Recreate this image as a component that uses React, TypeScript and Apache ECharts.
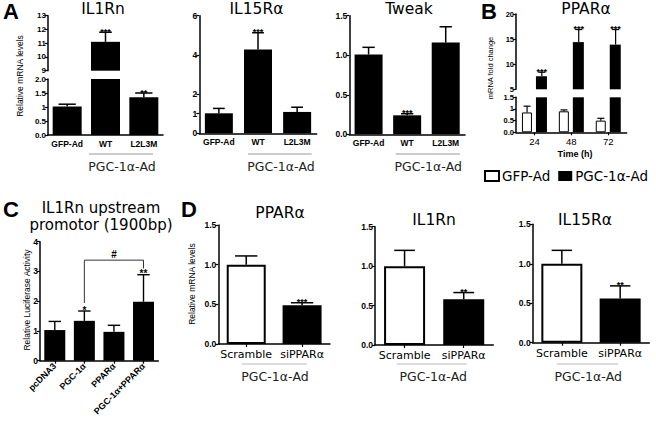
import React, { useEffect, useRef } from 'react';
import * as echarts from 'echarts';

// ---------- DATA ----------
const catsA = ['GFP-Ad', 'WT', 'L2L3M'];
const il1rnA = [1.02, 11.1, 1.35];
const il1rnAErr = [1.1, 11.8, 1.5];
const il1rnAStars = ['', '***', '**'];
const il15raA = [1.02, 4.27, 1.09];
const il15raAErr = [1.27, 5.13, 1.33];
const il15raAStars = ['', '***', ''];
const tweakA = [1.01, 0.24, 1.16];
const tweakAErr = [1.1, 0.26, 1.36];
const tweakAStars = ['', '***', ''];

const timesB = ['24', '48', '72'];
const gfpB = [0.85, 0.9, 0.5];
const gfpBErr = [1.12, 0.96, 0.6];
const pgcB = [7.6, 14.4, 13.9];
const pgcBErr = [8.4, 16.9, 16.9];
const pgcBStars = ['***', '***', '***'];

const catsC = ['pcDNA3', 'PGC-1α', 'PPARα', 'PGC-1α+PPARα'];
const lucC = [1.03, 1.34, 0.97, 1.98];
const lucCErr = [1.32, 1.67, 1.19, 2.89];
const lucCStars = ['', '*', '', '**'];
const bracketC = [[1, 3.38, 3, 1.94, 3.1]]; // [fromCat, top, toCat, leftEnd, rightEnd]
const bracketCLabel = '#';

const catsD = ['Scramble', 'siPPARα'];
const pparD = [1.0, 0.49];
const pparDErr = [1.11, 0.52];
const pparDStars = ['', '***'];
const il1rnD = [1.0, 0.58];
const il1rnDErr = [1.2, 0.665];
const il1rnDStars = ['', '**'];
const il15raD = [1.0, 0.56];
const il15raDErr = [1.17, 0.72];
const il15raDStars = ['', '**'];

// ---------- STYLE HELPERS ----------
const TICK_FONT = '"Liberation Sans", Arial, sans-serif';
const TEXT_FONT = '"DejaVu Sans", sans-serif';

const g = (left: number, top: number, width: number, height: number) => ({ left, top, width, height });

function catAxis(gridIndex: number, data: string[], o: any = {}) {
  const show = o.show !== false;
  return {
    type: 'category', gridIndex, data, show,
    axisLine: { show, onZero: false, lineStyle: { color: '#000', width: 1.5 } },
    axisTick: { show: !!o.tick, alignWithLabel: true, length: 3, lineStyle: { color: '#000', width: 1.2 } },
    axisLabel: {
      show, interval: 0, color: '#000', margin: o.margin ?? 4, rotate: o.rotate ?? 0,
      fontFamily: o.font ?? TICK_FONT, fontSize: o.fontSize ?? 8.5, fontWeight: o.weight ?? 'bold',
    },
  };
}

function valAxis(gridIndex: number, min: number, max: number, interval: number, fmt: (v: number) => string, custom?: number[], size = 8.5) {
  return {
    type: 'value', gridIndex, min, max, interval,
    splitLine: { show: false },
    axisLine: { show: true, lineStyle: { color: '#000', width: 1.5 } },
    axisTick: { show: true, length: 3, lineStyle: { color: '#000', width: 1.2 }, ...(custom ? { customValues: custom } : {}) },
    axisLabel: {
      color: '#000', margin: 2, fontFamily: TICK_FONT, fontSize: size, fontWeight: 'bold',
      formatter: (v: number) => fmt(v), showMinLabel: true, showMaxLabel: true,
      ...(custom ? { customValues: custom } : {}),
    },
  };
}

function bar(name: string, idx: number, data: any[], width: number, color: any, border = 0, extra: any = {}) {
  return {
    type: 'bar', name, xAxisIndex: idx, yAxisIndex: idx, data, barWidth: width, clip: true,
    itemStyle: { color, borderColor: '#000', borderWidth: border },
    silent: true, ...extra,
  };
}

function errSeries(idx: number, vals: number[], errs: number[], stars: string[], keep: (v: number) => boolean,
  o: { cap: number; offset?: number; lw?: number; starSize?: number }) {
  const data = vals.map((v, i) => [i, v, errs[i]]).filter((d) => keep(d[1]));
  return {
    type: 'custom', xAxisIndex: idx, yAxisIndex: idx, data, silent: true, z: 5,
    renderItem: (_p: any, api: any) => {
      const i = api.value(0);
      const p0 = api.coord([i, api.value(1)]);
      const p1 = api.coord([i, api.value(2)]);
      const bw = api.size([1, 0])[0];
      const cx = p0[0] + (o.offset ?? 0) * bw;
      const half = (o.cap * bw) / 2;
      const lw = o.lw ?? 1.5;
      const children: any[] = [
        { type: 'line', shape: { x1: cx, y1: p0[1], x2: cx, y2: p1[1] }, style: { stroke: '#000', lineWidth: lw } },
        { type: 'line', shape: { x1: cx - half, y1: p1[1], x2: cx + half, y2: p1[1] }, style: { stroke: '#000', lineWidth: lw } },
      ];
      const s = stars[i];
      if (s) {
        children.push({
          type: 'text',
          style: {
            text: s, x: cx, y: p1[1] + 4, align: 'center', textAlign: 'center', verticalAlign: 'bottom', textVerticalAlign: 'bottom',
            fontSize: o.starSize ?? 9, fontWeight: 'bold', fontFamily: TICK_FONT, fill: '#000',
          },
        });
      }
      return { type: 'group', children };
    },
  };
}

function txt(x: number, y: number, text: string, size: number, o: any = {}) {
  return {
    type: 'text', x, y, rotation: o.rotation ?? 0, silent: true,
    style: {
      text, x: 0, y: 0, align: o.align ?? 'center', textAlign: o.align ?? 'center',
      verticalAlign: 'middle', textVerticalAlign: 'middle',
      fontSize: size, fontFamily: o.font ?? TEXT_FONT, fontWeight: o.weight ?? 'normal', fill: o.color ?? '#000',
    },
  };
}

function hline(x1: number, x2: number, y: number, color = '#bbb', w = 1.5) {
  return { type: 'line', silent: true, shape: { x1, y1: y, x2, y2: y }, style: { stroke: color, lineWidth: w } };
}

const f1 = (v: number) => v.toFixed(1);
const fInt = (v: number) => String(v);
const fA1l = (v: number) => (v === 0 ? '0.0' : v === 2 ? '2.0' : String(v));
const fBl = (v: number) => (v === 0 ? '0.0' : String(v));

export default function App() {
  const ref = useRef<HTMLDivElement>(null);
  useEffect(() => {
    if (!ref.current) return;
    const chart = echarts.init(ref.current, undefined, { renderer: 'svg' });
    const black = '#000';
    const whiteBlack = (p: any) => (p.dataIndex === 0 ? '#fff' : '#000');

    const option: any = {
      animation: false,
      backgroundColor: '#fff',
      grid: [
        g(48, 15.7, 115, 55), // 0 A1 upper
        g(48, 79, 115, 56), // 1 A1 lower
        g(199.3, 15.7, 117.4, 117.6), // 2 A2
        g(349.3, 15.7, 115.7, 118.6), // 3 A3
        g(516, 14, 110.7, 75.3), // 4 B upper
        g(516, 97.3, 110.7, 35), // 5 B lower
        g(40, 241.7, 118.3, 119), // 6 C
        g(218.3, 225, 111.7, 119), // 7 D1
        g(375, 226.7, 118.3, 118.3), // 8 D2
        g(532.7, 224.3, 116.6, 118.4), // 9 D3
      ],
      xAxis: [
        catAxis(0, catsA, { show: false }),
        catAxis(1, catsA),
        catAxis(2, catsA),
        catAxis(3, catsA),
        catAxis(4, timesB, { show: false }),
        catAxis(5, timesB, { tick: true, weight: 'normal', fontSize: 9.5, margin: 4 }),
        catAxis(6, catsC, { tick: true, rotate: 45, fontSize: 9, margin: 4 }),
        catAxis(7, catsD, { tick: true, weight: 'normal', font: TEXT_FONT, fontSize: 11, margin: 5 }),
        catAxis(8, catsD, { tick: true, weight: 'normal', font: TEXT_FONT, fontSize: 11, margin: 5 }),
        catAxis(9, catsD, { tick: true, weight: 'normal', font: TEXT_FONT, fontSize: 11, margin: 5 }),
      ],
      yAxis: [
        valAxis(0, 9, 13, 1, fInt, undefined, 8),
        valAxis(1, 0, 2, 0.5, fA1l, undefined, 8),
        valAxis(2, 0, 6, 1, fInt, [0, 1, 2, 4, 6]),
        valAxis(3, 0, 1.5, 0.5, f1),
        valAxis(4, 5, 20, 5, fInt, undefined, 7.5),
        valAxis(5, 0, 1.5, 0.5, fBl, undefined, 7.5),
        valAxis(6, 0, 4, 1, fInt),
        valAxis(7, 0, 1.5, 0.5, f1),
        valAxis(8, 0, 1.5, 0.5, f1),
        valAxis(9, 0, 1.5, 0.5, f1),
      ],
      legend: {
        data: ['GFP-Ad', 'PGC-1α-Ad'], left: 484, top: 169, itemWidth: 14, itemHeight: 10, itemGap: 8,
        icon: 'rect', padding: 0, selectedMode: false,
        textStyle: { fontFamily: TEXT_FONT, fontSize: 13.5, color: '#000', padding: [0, 0, 0, -2] },
      },
      series: [
        // A1 broken axis
        bar('a1u', 0, il1rnA.map((v) => (v >= 9 ? v : '-')), 29, black),
        errSeries(0, il1rnA, il1rnAErr, il1rnAStars, (v) => v >= 9, { cap: 0.33 }),
        bar('a1l', 1, il1rnA, 29, black),
        errSeries(1, il1rnA, il1rnAErr, il1rnAStars, (v) => v <= 2, { cap: 0.45 }),
        // A2
        bar('a2', 2, il15raA, 28, black),
        errSeries(2, il15raA, il15raAErr, il15raAStars, () => true, { cap: 0.3 }),
        // A3
        bar('a3', 3, tweakA, 28, black),
        errSeries(3, tweakA, tweakAErr, tweakAStars, () => true, { cap: 0.32 }),
        // B broken axis grouped bars
        bar('GFP-Ad', 4, gfpB.map((v) => (v >= 5 ? v : '-')), 10, '#fff', 1, { barGap: '40%' }),
        bar('PGC-1α-Ad', 4, pgcB, 11, black, 0, { barGap: '40%' }),
        bar('GFP-Ad', 5, gfpB, 10, '#fff', 1, { barGap: '40%' }),
        bar('PGC-1α-Ad', 5, pgcB, 11, black, 0, { barGap: '40%' }),
        errSeries(4, pgcB, pgcBErr, pgcBStars, (v) => v >= 5, { cap: 0.19, offset: 0.2, lw: 1.2, starSize: 9 }),
        errSeries(5, gfpB, gfpBErr, ['', '', ''], (v) => v <= 1.5, { cap: 0.19, offset: -0.2, lw: 1.2 }),
        // C
        bar('c', 6, lucC, 21, black),
        errSeries(6, lucC, lucCErr, lucCStars, () => true, { cap: 0.42, lw: 1.4, starSize: 10 }),
        {
          type: 'custom', xAxisIndex: 6, yAxisIndex: 6, data: bracketC, silent: true,
          renderItem: (_p: any, api: any) => {
            const pL = api.coord([api.value(0), api.value(1)]);
            const pR = api.coord([api.value(2), api.value(1)]);
            const pLe = api.coord([api.value(0), api.value(3)]);
            const pRe = api.coord([api.value(2), api.value(4)]);
            return {
              type: 'group',
              children: [
                {
                  type: 'polyline',
                  shape: { points: [[pL[0], pLe[1]], [pL[0], pL[1]], [pR[0], pR[1]], [pR[0], pRe[1]]] },
                  style: { stroke: '#333', lineWidth: 1, fill: 'none' },
                },
                {
                  type: 'text',
                  style: {
                    text: bracketCLabel, x: (pL[0] + pR[0]) / 2, y: pL[1] - 1, align: 'center', textAlign: 'center',
                    verticalAlign: 'bottom', textVerticalAlign: 'bottom', fontSize: 10, fontWeight: 'bold', fontFamily: TICK_FONT, fill: '#000',
                  },
                },
              ],
            };
          },
        },
        // D
        bar('d1', 7, pparD, 39, whiteBlack, 2),
        errSeries(7, pparD, pparDErr, pparDStars, () => true, { cap: 0.4, starSize: 9 }),
        bar('d2', 8, il1rnD, 41, whiteBlack, 2),
        errSeries(8, il1rnD, il1rnDErr, il1rnDStars, () => true, { cap: 0.35, starSize: 9 }),
        bar('d3', 9, il15raD, 41, whiteBlack, 2),
        errSeries(9, il15raD, il15raDErr, il15raDStars, () => true, { cap: 0.35, starSize: 9 }),
      ],
      graphic: [
        // panel letters
        txt(11, 11.5, 'A', 22, { font: TICK_FONT, weight: 'bold' }),
        txt(489, 11.5, 'B', 22, { font: TICK_FONT, weight: 'bold' }),
        txt(11, 209, 'C', 22, { font: TICK_FONT, weight: 'bold' }),
        txt(189, 209, 'D', 22, { font: TICK_FONT, weight: 'bold' }),
        // titles
        txt(103, 8.5, 'IL1Rn', 15.5),
        txt(256.5, 8.5, 'IL15Rα', 15.5),
        txt(409, 8.5, 'Tweak', 15.5),
        txt(586, 9, 'PPARα', 15.5),
        txt(101, 208, 'IL1Rn upstream', 15),
        txt(101, 225, 'promotor (1900bp)', 15),
        txt(280, 213, 'PPARα', 15.5),
        txt(434, 220, 'IL1Rn', 15.5),
        txt(585, 220, 'IL15Rα', 15.5),
        // y axis names
        txt(20, 76, 'Relative mRNA levels', 8.5, { font: TICK_FONT, rotation: Math.PI / 2 }),
        txt(490, 68, 'mRNA fold change', 7.5, { font: TICK_FONT, rotation: Math.PI / 2 }),
        txt(27, 300, 'Relative Luciferase Activity', 8.5, { font: TICK_FONT, rotation: Math.PI / 2 }),
        txt(192, 284, 'Relative mRNA levels', 8.5, { font: TICK_FONT, rotation: Math.PI / 2 }),
        // x axis names
        txt(575, 154, 'Time (h)', 9, { font: TICK_FONT, weight: 'bold' }),
        // PGC-1α-Ad group labels
        hline(89, 153, 154),
        txt(122, 166, 'PGC-1α-Ad', 12.5, { color: '#222' }),
        hline(248, 311.7, 154),
        txt(281, 166, 'PGC-1α-Ad', 12.5, { color: '#222' }),
        hline(395.7, 460, 154),
        txt(428.3, 166, 'PGC-1α-Ad', 12.5, { color: '#222' }),
        hline(241.7, 306.7, 364, '#bbb', 1),
        txt(275, 376, 'PGC-1α-Ad', 12.5, { color: '#222' }),
        hline(396.7, 466.7, 364, '#bbb', 1),
        txt(433.3, 376.7, 'PGC-1α-Ad', 12.5, { color: '#222' }),
        hline(556.7, 618.3, 364, '#bbb', 1),
        txt(588.3, 376.7, 'PGC-1α-Ad', 12.5, { color: '#222' }),
      ],
    };
    chart.setOption(option);
    return () => chart.dispose();
  }, []);
  return <div ref={ref} style={{ position: 'absolute', left: 0, top: 0, width: 656, height: 425, background: '#fff' }} />;
}
